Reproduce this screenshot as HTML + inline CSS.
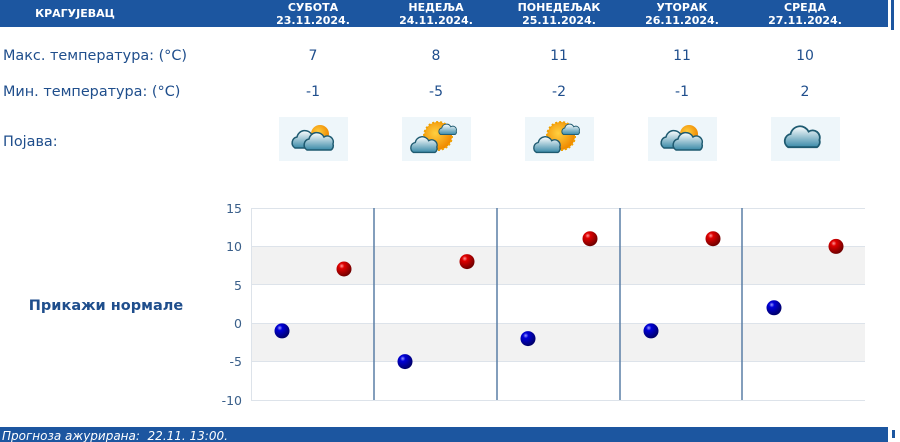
<!DOCTYPE html>
<html><head><meta charset="utf-8"><style>
html,body{margin:0;padding:0;background:#fff;width:900px;height:442px;overflow:hidden}
svg{display:block}
</style></head><body>
<svg width="900" height="442" xmlns="http://www.w3.org/2000/svg" font-family="DejaVu Sans, Liberation Sans, sans-serif">
<defs>
<radialGradient id="rd" cx="0.35" cy="0.3" r="0.7"><stop offset="0" stop-color="#ff9a9a"/><stop offset="0.25" stop-color="#e00000"/><stop offset="1" stop-color="#700000"/></radialGradient>
<radialGradient id="bl" cx="0.35" cy="0.3" r="0.7"><stop offset="0" stop-color="#9a9aff"/><stop offset="0.25" stop-color="#0000d8"/><stop offset="1" stop-color="#00006a"/></radialGradient>
<radialGradient id="sun" cx="0.4" cy="0.4" r="0.6"><stop offset="0" stop-color="#ffd040"/><stop offset="1" stop-color="#f08a00"/></radialGradient>
<linearGradient id="cl" x1="0" y1="0" x2="0" y2="1"><stop offset="0" stop-color="#ffffff"/><stop offset="1" stop-color="#3a8aa8"/></linearGradient>
<g id="cloud"><path d="M-14,6 a6,6 0 0 1 2,-11 a8,8 0 0 1 15,-2 a6,6 0 0 1 9,7 a5,5 0 0 1 -2,6 z" fill="url(#cl)" stroke="#1e5a70" stroke-width="1.5"/></g>
</defs>
<rect x="0" y="0" width="888" height="27" fill="#1c56a0"/>
<rect x="891" y="0" width="3" height="30" fill="#1c56a0"/>
<g fill="#fff" font-size="11" font-weight="bold" text-anchor="middle">
<text x="75" y="17">КРАГУЈЕВАЦ</text>
<text x="313" y="11">СУБОТА</text><text x="313" y="24">23.11.2024.</text>
<text x="436" y="11">НЕДЕЉА</text><text x="436" y="24">24.11.2024.</text>
<text x="559" y="11">ПОНЕДЕЉАК</text><text x="559" y="24">25.11.2024.</text>
<text x="682" y="11">УТОРАК</text><text x="682" y="24">26.11.2024.</text>
<text x="805" y="11">СРЕДА</text><text x="805" y="24">27.11.2024.</text>
</g>
<g fill="#1f4e8c" font-size="14.4">
<text x="3" y="60">Макс. температура: (°C)</text>
<text x="3" y="96">Мин. температура: (°C)</text>
<text x="3" y="146">Појава:</text>
</g>
<g fill="#1f4e8c" font-size="14" text-anchor="middle">
<text x="313" y="60">7</text><text x="436" y="60">8</text><text x="559" y="60">11</text><text x="682" y="60">11</text><text x="805" y="60">10</text>
<text x="313" y="96">-1</text><text x="436" y="96">-5</text><text x="559" y="96">-2</text><text x="682" y="96">-1</text><text x="805" y="96">2</text>
</g>
<g fill="#eef6fa">
<rect x="279" y="117" width="69" height="44"/><rect x="402" y="117" width="69" height="44"/><rect x="525" y="117" width="69" height="44"/><rect x="648" y="117" width="69" height="44"/><rect x="771" y="117" width="69" height="44"/>
</g>
<g transform="translate(313,139)"><circle cx="7" cy="-5" r="9" fill="url(#sun)"/><use href="#cloud" transform="translate(-4,3)"/><use href="#cloud" transform="translate(8,5)"/></g>
<g transform="translate(682,139)"><circle cx="7" cy="-5" r="9" fill="url(#sun)"/><use href="#cloud" transform="translate(-4,3)"/><use href="#cloud" transform="translate(8,5)"/></g>
<g transform="translate(436,139)"><circle cx="2" cy="-3" r="14" fill="url(#sun)" stroke="#f0a000" stroke-width="2" stroke-dasharray="2 2"/><use href="#cloud" transform="translate(13,-8) scale(0.6)"/><use href="#cloud" transform="translate(-10,8) scale(0.9)"/></g>
<g transform="translate(559,139)"><circle cx="2" cy="-3" r="14" fill="url(#sun)" stroke="#f0a000" stroke-width="2" stroke-dasharray="2 2"/><use href="#cloud" transform="translate(13,-8) scale(0.6)"/><use href="#cloud" transform="translate(-10,8) scale(0.9)"/></g>
<g transform="translate(805,140)"><use href="#cloud" transform="scale(1.2)"/></g>
<text x="106" y="310" fill="#1f4e8c" font-size="14.5" font-weight="bold" text-anchor="middle">Прикажи нормале</text>
<rect x="251" y="246.4" width="614" height="38.4" fill="#f2f2f2"/>
<rect x="251" y="323.2" width="614" height="38.4" fill="#f2f2f2"/>
<g stroke="#dde3ea" stroke-width="1">
<line x1="251" y1="208.5" x2="865" y2="208.5"/><line x1="251" y1="246.5" x2="865" y2="246.5"/><line x1="251" y1="284.5" x2="865" y2="284.5"/><line x1="251" y1="323.5" x2="865" y2="323.5"/><line x1="251" y1="361.5" x2="865" y2="361.5"/><line x1="251" y1="400.5" x2="865" y2="400.5"/>
<line x1="251.5" y1="208" x2="251.5" y2="400"/>
</g>
<g stroke="#5a7ea6" stroke-width="1.5">
<line x1="374" y1="208" x2="374" y2="400"/><line x1="497" y1="208" x2="497" y2="400"/><line x1="620" y1="208" x2="620" y2="400"/><line x1="742" y1="208" x2="742" y2="400"/>
</g>
<g fill="#3a5f8a" font-size="12.5" text-anchor="end">
<text x="242" y="213">15</text><text x="242" y="251">10</text><text x="242" y="290">5</text><text x="242" y="328">0</text><text x="242" y="366">-5</text><text x="242" y="405">-10</text>
</g>
<g>
<circle cx="282" cy="330.9" r="7.5" fill="url(#bl)"/><circle cx="344" cy="269" r="7.5" fill="url(#rd)"/>
<circle cx="405" cy="361.6" r="7.5" fill="url(#bl)"/><circle cx="467" cy="261.6" r="7.5" fill="url(#rd)"/>
<circle cx="528" cy="338.6" r="7.5" fill="url(#bl)"/><circle cx="590" cy="238.7" r="7.5" fill="url(#rd)"/>
<circle cx="651" cy="330.9" r="7.5" fill="url(#bl)"/><circle cx="713" cy="238.7" r="7.5" fill="url(#rd)"/>
<circle cx="774" cy="307.8" r="7.5" fill="url(#bl)"/><circle cx="836" cy="246.4" r="7.5" fill="url(#rd)"/>
</g>
<rect x="0" y="427" width="888" height="15" fill="#1c56a0"/>
<rect x="892" y="430" width="3" height="8" fill="#1c56a0"/>
<text x="2" y="440" fill="#fff" font-size="12" font-style="italic" xml:space="preserve">Прогноза ажурирана:  22.11. 13:00.</text>
</svg>
</body></html>
